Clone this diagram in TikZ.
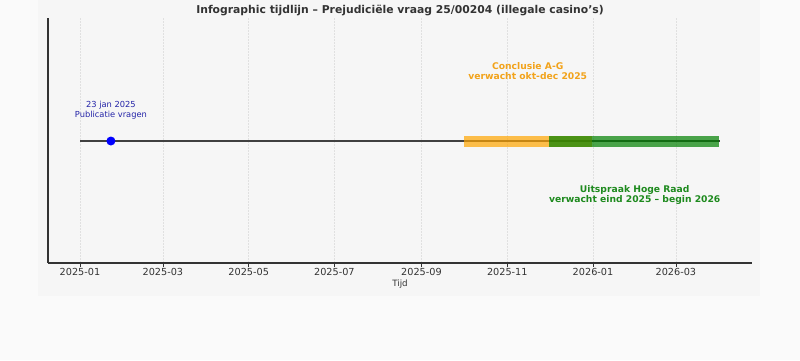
\documentclass[tikz,border=0pt]{standalone}
\usepackage{fontspec}
\setmainfont{DejaVu Sans}
\definecolor{outerbg}{HTML}{FAFAFA}
\definecolor{panelbg}{HTML}{F6F6F6}
\definecolor{axcol}{HTML}{333333}
\definecolor{ticktext}{HTML}{333333}
\definecolor{bluetxt}{HTML}{2424A8}
\definecolor{orangetxt}{HTML}{F2A31B}
\definecolor{greentxt}{HTML}{1E8A1E}
\definecolor{mplorange}{HTML}{FFA500}
\definecolor{mplgreen}{HTML}{008000}
\begin{document}
\begin{tikzpicture}[x=1pt,y=-1pt,
  spine/.style={draw=axcol,line width=1.1pt},
  gridline/.style={draw=black!12,line width=0.6pt,dash pattern=on 1.5pt off 1.5pt},
  tickmark/.style={draw=axcol,line width=0.8pt},
  ticklabel/.style={anchor=base,text=ticktext,font=\fontsize{9.7}{11}\selectfont,inner sep=0pt},
  timeline/.style={draw=black!75,line width=1.3pt},
  bluelabel/.style={anchor=base,align=center,text=bluetxt,font=\fontsize{8.3}{10.5}\selectfont,inner sep=0pt},
  orangelabel/.style={anchor=base,align=center,text=orangetxt,font=\bfseries\fontsize{9.2}{10}\selectfont,inner sep=0pt},
  greenlabel/.style={anchor=base,align=center,text=greentxt,font=\bfseries\fontsize{9.2}{10.7}\selectfont,inner sep=0pt},
  orangebar/.style={fill=mplorange,fill opacity=0.7,draw=none},
  greenbar/.style={fill=mplgreen,fill opacity=0.7,draw=none}
]
\useasboundingbox (0,0) rectangle (800,360);
\fill[outerbg] (0,0) rectangle (800,360);
\fill[panelbg] (38,0) rectangle (760,296);

% grid lines and ticks
\foreach \xx/\lab/\nm in {80/2025-01/a,162.9/2025-03/b,248.7/2025-05/c,334.4/2025-07/d,421.5/2025-09/e,507.3/2025-11/f,593/2026-01/g,675.9/2026-03/h}{
  \draw[gridline] (\xx,18) -- (\xx,263);
  \draw[tickmark] (\xx,263) -- (\xx,266.5);
  \node[ticklabel] (tick-\nm) at (\xx,275) {\lab};
}

% axes spines
\draw[spine] (48,18) -- (48,263);
\draw[spine] (48,263) -- (752,263);

% title and x label
\node[anchor=base,inner sep=0pt,text=ticktext,font=\bfseries\fontsize{10.8}{13}\selectfont] (title) at (400,13.5)
  {Infographic tijdlijn – Prejudiciële vraag 25/00204 (illegale casino’s)};
\node[anchor=base,inner sep=0pt,text=ticktext,font=\fontsize{8.7}{10}\selectfont] (xlabel) at (400,286) {Tijd};

% timeline
\coordinate (start) at (80,141);
\coordinate (end) at (719.5,141);
\draw[timeline] (start) -- (end);

% bars
\fill[orangebar] (463.7,136) rectangle (591.6,146.7);
\fill[greenbar] (549.4,136) rectangle (718.8,146.7);

% event dot
\node[circle,fill=blue,inner sep=0pt,minimum size=9pt] (pub) at (110.9,141) {};

% labels (base anchor = last line baseline)
\node[bluelabel] (publabel) at (110.9,117.5) {23 jan 2025\\Publicatie vragen};
\node[orangelabel] (aglabel) at (527.7,79.7) {Conclusie A-G\\verwacht okt-dec 2025};
\node[greenlabel] (hrlabel) at (634.7,202.7) {Uitspraak Hoge Raad\\verwacht eind 2025 – begin 2026};
\end{tikzpicture}
\end{document}
